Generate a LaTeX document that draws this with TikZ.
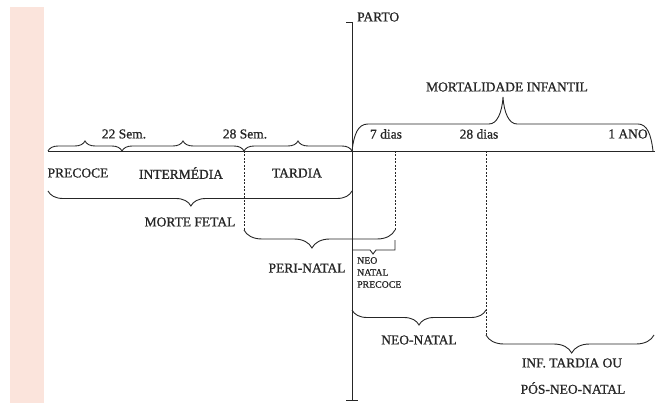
\documentclass[tikz,border=0pt]{standalone}
\usepackage{fontspec}
\setmainfont[FakeBold=0.9]{Liberation Serif}
\usetikzlibrary{decorations.pathreplacing}
\definecolor{ink}{HTML}{262626}
\definecolor{pinkc}{HTML}{FBE4DC}
\begin{document}
\begin{tikzpicture}[x=1pt,y=-1pt,
  ln/.style={draw=ink,line width=0.9pt},
  dsh/.style={draw=ink,line width=0.7pt,dash pattern=on 2pt off 1.5pt},
  br/.style={ln,decorate,decoration={brace,amplitude=#1}},
  brm/.style={ln,decorate,decoration={brace,mirror,amplitude=#1}},
  lab/.style={font=\fontsize{13.5}{15}\selectfont,text=ink,inner sep=0pt},
  small/.style={font=\fontsize{9.8}{12}\selectfont,text=ink,inner sep=0pt,align=left}]
\useasboundingbox (0,0) rectangle (655,403);
\fill[pinkc] (10,7) rectangle (44,403);
% PARTO line
\coordinate (ptop) at (352,22);
\coordinate (pbot) at (352,400);
\coordinate (ptick) at (346,22);
\coordinate (pbl) at (346,400);
\coordinate (pbr) at (358,400);
\draw[ln] (ptop) -- (pbot);
\draw[ln] (ptick) -- (ptop);
\draw[ln] (pbl) -- (pbr);
\node[lab,anchor=west] (parto) at (357,17) {PARTO};
% axis
\coordinate (a0) at (48,151);
\coordinate (a22) at (122,151);
\coordinate (a28) at (244,151);
\coordinate (ap) at (352,151);
\coordinate (a7) at (395,151);
\coordinate (a28d) at (486,151);
\coordinate (a1) at (653,151);
\coordinate (aend) at (655,151);
\draw[ln] (a0) -- (aend);
% top small braces
\draw[br=10] (a0) -- (a22);
\draw[br=10] (a22) -- (a28);
\draw[br=10] (a28) -- (ap);
% mortalidade infantil (tight-ended brace)
\coordinate (mit) at (503,97);
\draw[ln] (ap) .. controls (354,134) and (358,124) .. (368,124)
  -- (489,124) .. controls (497,124) and (502,113) .. (mit)
  .. controls (504,113) and (509,124) .. (517,124)
  -- (638,124) .. controls (647,124) and (651,134) .. (a1);
\node[lab] (mi) at (507,87) {MORTALIDADE INFANTIL};
\node[lab] (s22) at (124,134) {22 Sem.};
\node[lab] (s28) at (245,134) {28 Sem.};
\node[lab] (d7) at (386,134) {7 dias};
\node[lab] (d28) at (479,134) {28 dias};
\node[lab] (ano) at (628,134) {1 ANO};
\node[lab] (prec) at (78,173) {PRECOCE};
\node[lab] (inter) at (181,173) {INTERMÉDIA};
\node[lab] (tard) at (297,173) {TARDIA};
% morte fetal
\coordinate (mf0) at (48,191);
\coordinate (mf1) at (352,191);
\draw[brm=15,decoration={aspect=0.47}] (mf0) -- (mf1);
\node[lab] (mf) at (190,222) {MORTE FETAL};
% peri-natal
\coordinate (pn0) at (244,230);
\coordinate (pn1) at (395,230);
\draw[dsh] (a28) -- (pn0);
\draw[dsh] (a7) -- (pn1);
\draw[brm=18,decoration={aspect=0.45}] (pn0) -- (pn1);
\node[lab] (pn) at (307,268) {PERI-NATAL};
% neo natal precoce bracket
\coordinate (nb0) at (352,250);
\coordinate (nb1) at (370,250);
\coordinate (nbt) at (373,254);
\coordinate (nb2) at (376,250);
\coordinate (nb3) at (395,250);
\coordinate (nb4) at (395,240);
\draw[ln] (nb0) -- (nb1) -- (nbt) -- (nb2) -- (nb3) -- (nb4);
\node[small,anchor=north west] (nnp) at (357,257) {NEO\\NATAL\\PRECOCE};
% neo-natal
\coordinate (nn0) at (352,310);
\coordinate (nn1) at (486,310);
\draw[brm=15] (nn0) -- (nn1);
\node[lab] (nn) at (419,340) {NEO-NATAL};
% inf tardia
\coordinate (it0) at (486,335);
\coordinate (it1) at (654,335);
\draw[dsh] (a28d) -- (it0);
\draw[brm=18,decoration={aspect=0.51}] (it0) -- (it1);
\node[lab] (it) at (572,363) {INF. TARDIA OU};
\node[lab] (pos) at (573,388) {PÓS-NEO-NATAL};
\end{tikzpicture}
\end{document}
